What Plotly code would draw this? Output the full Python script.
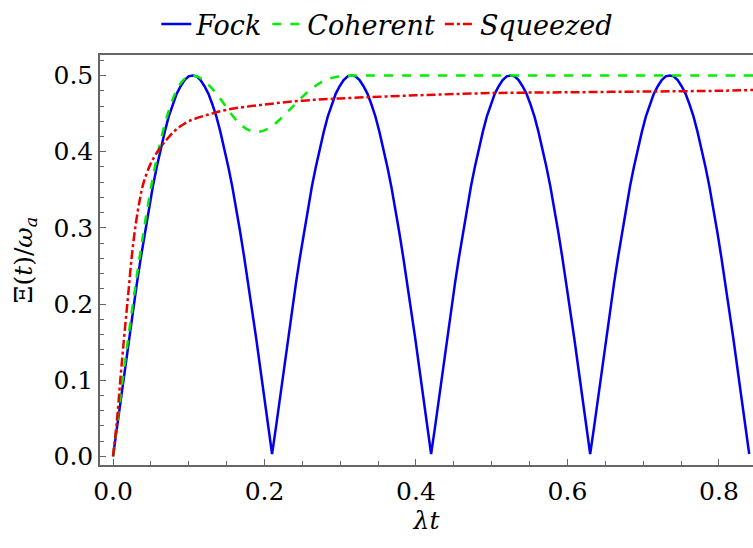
import plotly.graph_objects as go

# Fock state (read along the arches, 0.00525 step)
fock_t = [
    0.0, 0.00525, 0.0105, 0.01575, 0.021, 0.02625, 0.0315, 0.03675, 0.042, 0.04725,
    0.0525, 0.05775, 0.063, 0.06825, 0.0735, 0.07875, 0.084, 0.08925, 0.0945, 0.09975,
    0.105, 0.11025, 0.1155, 0.12075, 0.126, 0.13125, 0.1365, 0.14175, 0.147, 0.15225,
    0.1575, 0.16275, 0.168, 0.17325, 0.1785, 0.18375, 0.189, 0.19425, 0.1995, 0.20475,
    0.21, 0.21525, 0.2205, 0.22575, 0.231, 0.23625, 0.2415, 0.24675, 0.252, 0.25725,
    0.2625, 0.26775, 0.273, 0.27825, 0.2835, 0.28875, 0.294, 0.29925, 0.3045, 0.30975,
    0.315, 0.32025, 0.3255, 0.33075, 0.336, 0.34125, 0.3465, 0.35175, 0.357, 0.36225,
    0.3675, 0.37275, 0.378, 0.38325, 0.3885, 0.39375, 0.399, 0.40425, 0.4095, 0.41475,
    0.42, 0.42525, 0.4305, 0.43575, 0.441, 0.44625, 0.4515, 0.45675, 0.462, 0.46725,
    0.4725, 0.47775, 0.483, 0.48825, 0.4935, 0.49875, 0.504, 0.50925, 0.5145, 0.51975,
    0.525, 0.53025, 0.5355, 0.54075, 0.546, 0.55125, 0.5565, 0.56175, 0.567, 0.57225,
    0.5775, 0.58275, 0.588, 0.59325, 0.5985, 0.60375, 0.609, 0.61425, 0.6195, 0.62475,
    0.63, 0.63525, 0.6405, 0.64575, 0.651, 0.65625, 0.6615, 0.66675, 0.672, 0.67725,
    0.6825, 0.68775, 0.693, 0.69825, 0.7035, 0.70875, 0.714, 0.71925, 0.7245, 0.72975,
    0.735, 0.74025, 0.7455, 0.75075, 0.756, 0.76125, 0.7665, 0.77175, 0.777, 0.78225,
    0.7875, 0.79275, 0.798, 0.80325, 0.8085, 0.81375, 0.819, 0.82425, 0.8295, 0.83475,
    0.84]
fock_v = [
    0.0, 0.039, 0.078, 0.117, 0.155, 0.191, 0.227, 0.261, 0.294, 0.325,
    0.354, 0.380, 0.405, 0.426, 0.446, 0.462, 0.476, 0.486, 0.494, 0.499,
    0.5, 0.499, 0.494, 0.486, 0.476, 0.462, 0.446, 0.426, 0.405, 0.380,
    0.354, 0.325, 0.294, 0.261, 0.227, 0.191, 0.155, 0.117, 0.078, 0.039,
    0.003, 0.039, 0.078, 0.117, 0.155, 0.191, 0.227, 0.261, 0.294, 0.325,
    0.354, 0.380, 0.405, 0.426, 0.446, 0.462, 0.476, 0.486, 0.494, 0.499,
    0.5, 0.499, 0.494, 0.486, 0.476, 0.462, 0.446, 0.426, 0.405, 0.380,
    0.354, 0.325, 0.294, 0.261, 0.227, 0.191, 0.155, 0.117, 0.078, 0.039,
    0.003, 0.039, 0.078, 0.117, 0.155, 0.191, 0.227, 0.261, 0.294, 0.325,
    0.354, 0.380, 0.405, 0.426, 0.446, 0.462, 0.476, 0.486, 0.494, 0.499,
    0.5, 0.499, 0.494, 0.486, 0.476, 0.462, 0.446, 0.426, 0.405, 0.380,
    0.354, 0.325, 0.294, 0.261, 0.227, 0.191, 0.155, 0.117, 0.078, 0.039,
    0.003, 0.039, 0.078, 0.117, 0.155, 0.191, 0.227, 0.261, 0.294, 0.325,
    0.354, 0.380, 0.405, 0.426, 0.446, 0.462, 0.476, 0.486, 0.494, 0.499,
    0.5, 0.499, 0.494, 0.486, 0.476, 0.462, 0.446, 0.426, 0.405, 0.380,
    0.354, 0.325, 0.294, 0.261, 0.227, 0.191, 0.155, 0.117, 0.078, 0.039,
    0.003]

# Coherent state
coh_t = [0.0, 0.01, 0.02, 0.03, 0.04, 0.05, 0.06, 0.07, 0.08, 0.09, 0.1, 0.106,
         0.115, 0.125, 0.135, 0.145, 0.155, 0.165, 0.176, 0.1875, 0.2, 0.21, 0.22,
         0.23, 0.24, 0.25, 0.26, 0.273, 0.286, 0.3, 0.32, 0.4, 0.5, 0.6, 0.7, 0.8, 0.845]
coh_v = [0.0, 0.08, 0.155, 0.227, 0.293, 0.352, 0.402, 0.442, 0.472, 0.491, 0.4995, 0.5,
         0.497, 0.489, 0.478, 0.465, 0.451, 0.439, 0.43, 0.426, 0.428, 0.434, 0.442,
         0.452, 0.462, 0.472, 0.481, 0.49, 0.496, 0.499, 0.5, 0.5, 0.5, 0.5, 0.5, 0.5, 0.5]

# Squeezed state
sq_t = [0.0, 0.005, 0.01, 0.015, 0.02, 0.025, 0.03, 0.035, 0.04, 0.05, 0.06, 0.07,
        0.08, 0.09, 0.1, 0.12, 0.15, 0.2, 0.25, 0.3, 0.4, 0.5, 0.6, 0.7, 0.8, 0.845]
sq_v = [0.0, 0.045, 0.105, 0.16, 0.212, 0.265, 0.305, 0.335, 0.358, 0.385, 0.402, 0.415,
        0.426, 0.434, 0.44, 0.447, 0.455, 0.462, 0.467, 0.47, 0.474, 0.477, 0.478, 0.479,
        0.48, 0.481]

x_ticks = [0.0, 0.2, 0.4, 0.6, 0.8]
y_ticks = [0.0, 0.1, 0.2, 0.3, 0.4, 0.5]

FONT = "DejaVu Serif"
AX = "#666666"
FS = 25

fig = go.Figure()
fig.add_trace(go.Scatter(x=fock_t, y=fock_v, mode="lines", name="<i>Fock</i>",
                         line=dict(color="#0000ee", width=2.5)))
fig.add_trace(go.Scatter(x=coh_t, y=coh_v, mode="lines", name="<i>Coherent</i>",
                         line=dict(color="#00ee00", width=2.5, dash="dash", shape="spline")))
fig.add_trace(go.Scatter(x=sq_t, y=sq_v, mode="lines", name="<i>Squeezed</i>",
                         line=dict(color="#ee0000", width=2.5, dash="dashdot", shape="spline")))

fig.update_layout(
    width=753, height=548,
    margin=dict(l=100, r=0, t=55, b=83),
    paper_bgcolor="white", plot_bgcolor="white",
    font=dict(family=FONT, size=FS, color="black"),
    showlegend=True,
    legend=dict(orientation="h", x=0.44, xanchor="center", y=1.0, yanchor="top",
                yref="container", font=dict(family=FONT, size=27), itemwidth=30,
                bgcolor="rgba(0,0,0,0)"),
    xaxis=dict(range=[-0.0172, 0.845], tickvals=x_ticks,
               ticktext=[f"{v:.1f}" for v in x_ticks],
               tickfont=dict(family=FONT, size=FS), ticklabelstandoff=3,
               showline=True, linecolor=AX, linewidth=1.5, mirror=True,
               ticks="inside", ticklen=6, tickcolor=AX, tickwidth=1.2,
               minor=dict(dtick=0.05, tick0=0, ticks="inside", ticklen=4, tickcolor=AX, tickwidth=1),
               showgrid=False, zeroline=False,
               title=dict(text="<i>λt</i>", standoff=4, font=dict(family=FONT, size=FS))),
    yaxis=dict(range=[-0.0114, 0.527], tickvals=y_ticks,
               ticktext=[f"{v:.1f}" for v in y_ticks],
               tickfont=dict(family=FONT, size=FS),
               showline=True, linecolor=AX, linewidth=1.5, mirror=False,
               ticks="inside", ticklen=6, tickcolor=AX, tickwidth=1.2,
               minor=dict(dtick=0.02, tick0=0, ticks="inside", ticklen=4, tickcolor=AX, tickwidth=1),
               showgrid=False, zeroline=False,
               title=dict(text="Ξ(<i>t</i>)/<i>ω</i><sub><i>a</i></sub>", standoff=14,
                          font=dict(family=FONT, size=FS))),
)

fig.write_html("out.html", config={"displayModeBar": False},
               post_script="document.body.style.margin='0';")
